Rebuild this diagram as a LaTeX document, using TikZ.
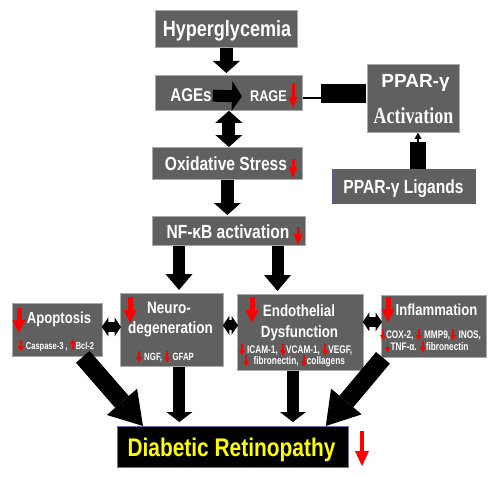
\documentclass[tikz,border=0pt]{standalone}
\usepackage{fontspec}
\newfontfamily\cond[FakeStretch=0.82]{Liberation Sans}
\newfontfamily\condsmall[FakeStretch=0.75]{Liberation Sans}
\newfontfamily\plainsans{Liberation Sans}
\newfontfamily\condserif[FakeStretch=0.78]{Liberation Serif}
\usetikzlibrary{arrows.meta}

\definecolor{boxgray}{RGB}{96,96,96}
\definecolor{boxedge}{RGB}{170,170,170}
\definecolor{ligedge}{RGB}{90,90,150}
\definecolor{dredge}{RGB}{110,110,170}
\definecolor{drtext}{RGB}{255,255,0}

\newcommand{\fsz}[1]{\fontsize{#1}{#1}\selectfont}
\newcommand{\reddn}{\tikz[baseline=0pt]\draw[red,line width=1.7pt,-{Triangle[width=6pt,length=5.5pt,line width=0pt]}] (0pt,9pt) -- (0pt,-2.5pt);}
\newcommand{\redup}{\tikz[baseline=0pt]\draw[red,line width=1.7pt,-{Triangle[width=6pt,length=5.5pt,line width=0pt]}] (0pt,-1pt) -- (0pt,10pt);}

\begin{document}
\begin{tikzpicture}[x=1pt,y=-1pt]

\tikzstyle{panel}=[draw=boxedge, fill=boxgray, line width=0.8pt,
	inner sep=0pt, anchor=north west]
\tikzstyle{boxtext}=[text=white, inner sep=0pt, anchor=base]
\tikzstyle{bigarrow}=[line width=13pt, -{Triangle[width=27pt,length=12pt,line width=0pt]}]
\tikzstyle{bothways}=[line width=13pt, {Triangle[width=27pt,length=12pt,line width=0pt]}-{Triangle[width=27pt,length=12pt,line width=0pt]}]
\tikzstyle{splitarrow}=[line width=12pt, -{Triangle[width=27pt,length=16pt,line width=0pt]}]
\tikzstyle{downarrow}=[line width=12pt, -{Triangle[width=26pt,length=10pt,line width=0pt]}]
\tikzstyle{sidearrows}=[line width=10pt, shorten <=-1pt, shorten >=-1pt,
	{Triangle[width=19pt,length=6.5pt,line width=0pt]}-{Triangle[width=19pt,length=6.5pt,line width=0pt]}]
\tikzstyle{fatarrow}=[line width=18pt, -{Triangle[width=40pt,length=32pt,line width=0pt]}]
\tikzstyle{redmark}=[red, line width=3pt, -{Triangle[width=9pt,length=11pt,line width=0pt]}]
\tikzstyle{bigredmark}=[red, line width=5pt, -{Triangle[width=13pt,length=13pt,line width=0pt]}]

\useasboundingbox (0,0) rectangle (500,476);

% boxes
\node[panel, minimum width=142pt, minimum height=37pt] (hyper) at (155,10) {};
\node[panel, minimum width=147pt, minimum height=35pt] (ages) at (155,75) {};
\node[panel, minimum width=92pt, minimum height=68pt] (ppar) at (367,64) {};
\node[panel, draw=ligedge, minimum width=143pt, minimum height=34pt] (lig) at (332,169) {};
\node[panel, minimum width=150pt, minimum height=32pt] (ox) at (152,147) {};
\node[panel, minimum width=153pt, minimum height=29pt] (nf) at (152,216) {};
\node[panel, minimum width=90pt, minimum height=53pt] (apo) at (12,303) {};
\node[panel, minimum width=103pt, minimum height=73pt] (neuro) at (120,293) {};
\node[panel, minimum width=126pt, minimum height=76pt] (endo) at (237,294) {};
\node[panel, minimum width=105pt, minimum height=62pt] (infl) at (381,295) {};
\node[panel, fill=black, draw=dredge, minimum width=231pt, minimum height=41pt] (dr) at (117,426) {};

% texts
\node[boxtext, font=\cond\bfseries\fsz{22}] (hypertxt) at (227,37) {Hyperglycemia};
\node[boxtext, font=\cond\bfseries\fsz{18.5}] (agestxt) at (191,102) {AGEs};
\node[boxtext, font=\cond\bfseries\fsz{15.5}] (ragetxt) at (268.5,102) {RAGE};
\node[boxtext, font=\plainsans\bfseries\fsz{19}] (ppartxt) at (415.5,88) {PPAR-γ};
\node[boxtext, font=\condserif\bfseries\fsz{23}] (acttxt) at (413.5,123) {Activation};
\node[boxtext, font=\cond\bfseries\fsz{19}] (ligtxt) at (403.5,193) {PPAR-γ Ligands};
\node[boxtext, font=\cond\bfseries\fsz{19}] (oxtxt) at (226,170.5) {Oxidative Stress};
\node[boxtext, font=\cond\bfseries\fsz{19}] (nftxt) at (228,238) {NF-κB activation};
\node[boxtext, font=\cond\bfseries\fsz{16}] (apotxt) at (59,323) {Apoptosis};
\node[boxtext, font=\condsmall\bfseries\fsz{10}] (apolist) at (56,349) {\reddn\ Caspase-3 , \redup Bcl-2};
\node[boxtext, font=\cond\bfseries\fsz{16.5}] (neurotxt) at (169,313) {Neuro-};
\node[boxtext, font=\cond\bfseries\fsz{16.5}] (degtxt) at (170.5,333) {degeneration};
\node[boxtext, font=\condsmall\bfseries\fsz{10.5}] (neurolist) at (165,360) {\reddn\ NGF, \reddn\ GFAP};
\node[boxtext, font=\cond\bfseries\fsz{16.3}] (endotxt) at (299,316) {Endothelial};
\node[boxtext, font=\cond\bfseries\fsz{16.3}] (dystxt) at (299.5,337) {Dysfunction};
\node[boxtext, font=\condsmall\bfseries\fsz{11}] (endolistA) at (295.5,353) {\reddn\ ICAM-1, \reddn VCAM-1, \reddn VEGF,};
\node[boxtext, font=\condsmall\bfseries\fsz{11}] (endolistB) at (294,364) {\reddn\ \ fibronectin, \reddn collagens};
\node[boxtext, font=\cond\bfseries\fsz{16}] (infltxt) at (436.5,315) {Inflammation};
\node[boxtext, font=\condsmall\bfseries\fsz{11}] (infllistA) at (430.5,338) {\reddn COX-2, \reddn\ MMP9,\reddn\ INOS,};
\node[boxtext, font=\condsmall\bfseries\fsz{11}] (infllistB) at (426.5,350) {\reddn TNF-α. \reddn fibronectin};
\node[boxtext, text=drtext, font=\cond\bfseries\fsz{25.5}] (drtxt) at (231.5,456) {Diabetic Retinopathy};

% main chain
\draw[bigarrow, shorten >=2pt] (hyper.south) -- (hyper.south |- ages.north);
\draw[line width=12pt, -{Triangle[width=30pt,length=10pt,line width=0pt]}, shorten <=1pt, shorten >=8pt] (agestxt.east) -- (ragetxt.west);
\draw[bothways] (ages.south) -- (ages.south |- ox.north);
\draw[bigarrow, shorten >=1pt] (ox.south) -- (ox.south |- nf.north);

% PPAR side
\coordinate (inhibit) at (321,98);
\draw[line width=2pt] (inhibit) -- (ages.east |- inhibit);
\draw[line width=19pt] ([yshift=4.5pt,xshift=-1pt]ppar.west) -- ([yshift=4.5pt]ppar.west -| inhibit);
\coordinate (ligneck) at (418,142);
\draw[line width=16pt] (lig.north -| ligneck) -- (ligneck);
\draw[line width=1.5pt, -{Triangle[width=7pt,length=6pt,line width=0pt]}] (ligneck) -- (ligneck |- ppar.south);

% split to the four effects
\draw[splitarrow, shorten >=3pt] ([xshift=27pt]nf.south west) -- ([xshift=27pt]nf.south west |- neuro.north);
\draw[splitarrow, shorten >=3pt] ([xshift=125.5pt]nf.south west) -- ([xshift=125.5pt]nf.south west |- endo.north);
\draw[sidearrows] ([yshift=3pt]apo.east) -- ([yshift=3pt]apo.east -| neuro.west);
\draw[sidearrows] ([yshift=4.5pt]neuro.east) -- ([yshift=4.5pt]neuro.east -| endo.west);
\draw[sidearrows] ([yshift=4.5pt]infl.west -| endo.east) -- ([yshift=4.5pt]infl.west);

% into retinopathy
\draw[fatarrow] ([xshift=-20pt]apo.south east) -- ([xshift=26pt]dr.north west);
\draw[fatarrow] ([xshift=2pt]infl.south west) -- ([xshift=-23pt]dr.north east);
\draw[downarrow, shorten >=4pt] ([xshift=7.5pt]neuro.south) -- ([xshift=7.5pt]neuro.south |- dr.north);
\draw[downarrow, shorten >=4pt] ([xshift=-7.5pt]endo.south) -- ([xshift=-7.5pt]endo.south |- dr.north);

% red marks
\draw[redmark] (293,83) -- (293,108);
\draw[redmark] (293,159) -- (293,178);
\draw[redmark] (298,227) -- (298,245);
\draw[redmark, line width=4pt, -{Triangle[width=14pt,length=15pt,line width=0pt]}] (362,431) -- (362,466);
\draw[bigredmark] (19,308) -- (19,333);
\draw[bigredmark] (130,297) -- (130,323);
\draw[bigredmark] (252,297) -- (252,323);
\draw[bigredmark] (388,297) -- (388,322);

\end{tikzpicture}
\end{document}
